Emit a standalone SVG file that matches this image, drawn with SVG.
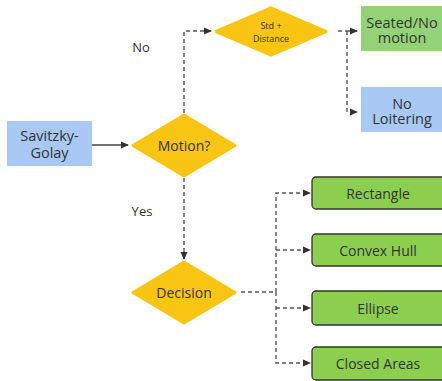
<svg xmlns="http://www.w3.org/2000/svg" width="442" height="381" viewBox="0 0 442 381">
<defs>
<marker id="ah" markerWidth="8" markerHeight="8" refX="7" refY="4" orient="auto" markerUnits="userSpaceOnUse">
<path d="M0,0.5 L8,4 L0,7.5 z" fill="#333"/>
</marker>
<style>
text{font-family:"Open Sans","Noto Sans",sans-serif;fill:#333;text-anchor:middle;dominant-baseline:central}
.dia{fill:#f8c513;stroke:#f8c513;stroke-width:3;stroke-linejoin:round}
.blue{fill:#a7c9f4}
.lg{fill:#93d276}
.g{fill:#8ccf4e;stroke:#333;stroke-width:1.3}
.c{fill:none;stroke:#555;stroke-width:1.4;stroke-dasharray:4 3}
.s{fill:none;stroke:#444;stroke-width:1.4}
.t15{font-size:14.5px}
.t14{font-size:14px}
.t13{font-size:13px}
.t9{font-size:9px}
</style>
</defs>
<rect width="442" height="381" fill="#fff"/>
<g id="connectors">
<path class="s" d="M92,145 H128" marker-end="url(#ah)"/>
<path class="c" d="M184,113 V31 H211" marker-end="url(#ah)"/>
<path class="c" d="M338,31 H347 M347,31 H357" marker-end="url(#ah)"/>
<path class="c" d="M347,31 V112 H357" marker-end="url(#ah)"/>
<path class="c" d="M184,178 V259" marker-end="url(#ah)"/>
<path class="c" d="M241,292 H276"/>
<path class="c" d="M276,292 V193 H310" marker-end="url(#ah)"/>
<path class="c" d="M276,250 H310" marker-end="url(#ah)"/>
<path class="c" d="M276,308 H310" marker-end="url(#ah)"/>
<path class="c" d="M276,292 V363 H310" marker-end="url(#ah)"/>
<text class="t13" x="141" y="47">No</text>
<text class="t13" x="142" y="211">Yes</text>
</g>
<g id="savitzky">
<rect class="blue" x="7" y="121" width="85" height="45"/>
<text class="t15"><tspan x="49.5" y="135">Savitzky-</tspan><tspan x="49.5" y="152">Golay</tspan></text>
</g>
<g id="motion">
<polygon class="dia" points="184,115 235,145.5 184,176 133,145.5"/>
<text class="t14" x="184" y="145">Motion?</text>
</g>
<g id="std">
<polygon class="dia" points="271,8 326,31.5 271,55 216,31.5"/>
<text class="t9"><tspan x="271" y="25">Std +</tspan><tspan x="271" y="38">Distance</tspan></text>
</g>
<g id="seated">
<rect class="lg" x="361" y="6" width="83" height="45"/>
<text class="t15"><tspan x="402" y="21.5">Seated/No</tspan><tspan x="402" y="37">motion</tspan></text>
</g>
<g id="noloiter">
<rect class="blue" x="361" y="87" width="83" height="45"/>
<text class="t15"><tspan x="402" y="102.5">No</tspan><tspan x="402" y="118">Loitering</tspan></text>
</g>
<g id="decision">
<polygon class="dia" points="184,262 235,292.5 184,323 133,292.5"/>
<text class="t14" x="184" y="292">Decision</text>
</g>
<g id="rectangle">
<rect class="g" x="312" y="177" width="135" height="32" rx="4"/>
<text class="t14" x="378" y="193">Rectangle</text>
</g>
<g id="convex">
<rect class="g" x="312" y="234" width="135" height="32" rx="4"/>
<text class="t14" x="378" y="250">Convex Hull</text>
</g>
<g id="ellipse">
<rect class="g" x="312" y="291" width="135" height="34" rx="4"/>
<text class="t14" x="378" y="308">Ellipse</text>
</g>
<g id="closed">
<rect class="g" x="312" y="347" width="135" height="33" rx="4"/>
<text class="t14" x="378" y="363">Closed Areas</text>
</g>
</svg>
